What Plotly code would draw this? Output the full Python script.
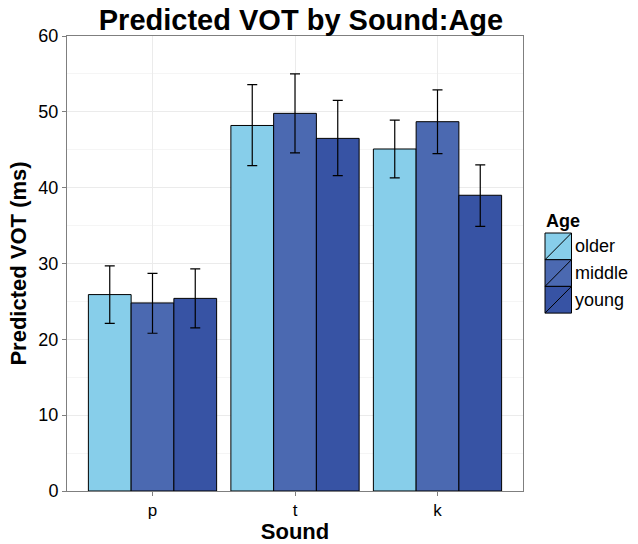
import plotly.graph_objects as go

sounds = ["p", "t", "k"]
ages = ["older", "middle", "young"]
colors = {"older": "#87CEEA", "middle": "#4B69B1", "young": "#3753A4"}

vot = {
    "older": [25.9, 48.2, 45.1],
    "middle": [24.8, 49.8, 48.7],
    "young": [25.4, 46.5, 39.0],
}
upper = {
    "older": [29.7, 53.6, 48.9],
    "middle": [28.7, 55.0, 52.9],
    "young": [29.3, 51.5, 43.0],
}
lower = {
    "older": [22.1, 42.9, 41.3],
    "middle": [20.8, 44.6, 44.5],
    "young": [21.5, 41.6, 34.9],
}

FONT = "Liberation Sans, Arial, Helvetica, sans-serif"

fig = go.Figure()
for a in ages:
    fig.add_trace(go.Bar(
        x=sounds, y=vot[a], name=a,
        marker=dict(color=colors[a], line=dict(color="black", width=1)),
        error_y=dict(
            type="data", symmetric=False,
            array=[u - v for u, v in zip(upper[a], vot[a])],
            arrayminus=[v - l for v, l in zip(vot[a], lower[a])],
            color="black", thickness=1.2, width=5,
        ),
        showlegend=False,
    ))

L, R, T, B = 67, 523, 36, 491
W, H = 638, 544
def px(x):
    return (x - L) / (R - L)
def py(y):
    return (B - y) / (B - T)

shapes = []
annotations = []
annotations.append(dict(text="<b>Age</b>", x=px(544), y=py(221), xref="paper", yref="paper",
                        xanchor="left", yanchor="middle", showarrow=False,
                        font=dict(size=18, color="black", family=FONT)))
for i, a in enumerate(ages):
    y0 = 233 + i * 26.7
    y1 = y0 + 26.7
    shapes.append(dict(type="rect", xref="paper", yref="paper",
                       x0=px(545), x1=px(571.5), y0=py(y1), y1=py(y0),
                       fillcolor=colors[a], line=dict(color="black", width=1)))
    shapes.append(dict(type="line", xref="paper", yref="paper",
                       x0=px(545), x1=px(571.5), y0=py(y1), y1=py(y0),
                       line=dict(color="black", width=1)))
    annotations.append(dict(text=a, x=px(573), y=py((y0 + y1) / 2), xref="paper", yref="paper",
                            xanchor="left", yanchor="middle", showarrow=False,
                            font=dict(size=18, color="black", family=FONT)))

fig.update_layout(
    width=W, height=H,
    margin=dict(l=L, r=W - R, t=T, b=H - B),
    paper_bgcolor="white", plot_bgcolor="white",
    barmode="group", bargap=0.1, bargroupgap=0,
    font=dict(family=FONT, color="black"),
    title=dict(text="<b>Predicted VOT by Sound:Age</b>", x=px(301), xref="paper",
               y=1 - 20 / H, yanchor="middle", xanchor="center",
               font=dict(size=29, color="black", family=FONT)),
    shapes=shapes, annotations=annotations,
    xaxis=dict(
        range=[-0.6, 2.6], showgrid=True, gridcolor="#EBEBEB", gridwidth=1,
        ticks="outside", ticklen=4, tickcolor="#7F7F7F",
        tickfont=dict(size=17, color="black"),
        title=dict(text="<b>Sound</b>", font=dict(size=22, color="black"), standoff=5),
        showline=True, linecolor="#7F7F7F", mirror=True, linewidth=1,
        automargin=False,
    ),
    yaxis=dict(
        range=[0, 60], tickvals=[0, 10, 20, 30, 40, 50, 60],
        showgrid=True, gridcolor="#EBEBEB", gridwidth=1,
        minor=dict(tickvals=[5, 15, 25, 35, 45, 55], showgrid=True, gridcolor="#F5F5F5", ticks=""),
        ticks="outside", ticklen=4, tickcolor="#7F7F7F",
        tickfont=dict(size=18, color="black"),
        title=dict(text="<b>Predicted VOT (ms)</b>", font=dict(size=22, color="black"), standoff=5),
        showline=True, linecolor="#7F7F7F", mirror=True, linewidth=1,
        zeroline=False, automargin=False,
    ),
)

fig.write_html("out.html")
